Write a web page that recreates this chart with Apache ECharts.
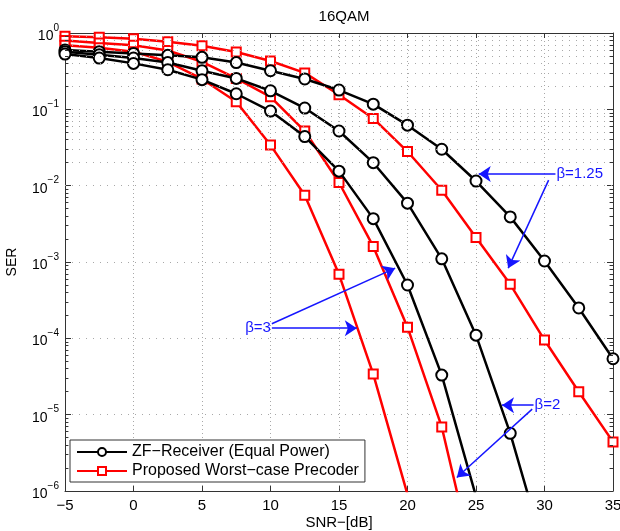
<!DOCTYPE html>
<html>
<head>
<meta charset="utf-8">
<script src="https://cdn.jsdelivr.net/npm/echarts@6/dist/echarts.min.js"></script>
<style>
    html, body { margin: 0; padding: 0; background: #fff; }
    #main { width: 620px; height: 531px; }
</style>
</head>
<body>
<div id="main"></div>
<script>
// SNR points (dB)
var snr = [-5, -2.5, 0, 2.5, 5, 7.5, 10, 12.5, 15, 17.5, 20, 22.5, 25, 27.5, 30, 32.5, 35];

// ZF-Receiver (Equal Power), beta = 1.25 / 2 / 3
var zf125 = [0.60, 0.57, 0.54, 0.51, 0.48, 0.41, 0.32, 0.25, 0.179, 0.117, 0.062, 0.030, 0.0115, 0.0039, 0.00103, 2.5e-4, 5.4e-5];
var zf2 = [0.57, 0.52, 0.47, 0.41, 0.32, 0.254, 0.175, 0.104, 0.052, 0.020, 0.0059, 0.0011, 1.1e-4, 5.7e-6, 1.6e-7];
var zf3 = [0.53, 0.47, 0.40, 0.33, 0.245, 0.16, 0.095, 0.044, 0.0155, 0.0037, 5.0e-4, 3.3e-5, 8.5e-7];

// Proposed Worst-case Precoder, beta = 1.25 / 2 / 3
var wc125 = [0.91, 0.88, 0.84, 0.77, 0.68, 0.565, 0.43, 0.30, 0.155, 0.076, 0.028, 0.0087, 0.0021, 5.1e-4, 9.5e-5, 2.0e-5, 4.4e-6];
var wc2 = [0.80, 0.74, 0.69, 0.59, 0.42, 0.254, 0.146, 0.052, 0.011, 0.0016, 1.4e-4, 6.9e-6, 8.5e-8];
var wc3 = [0.69, 0.64, 0.57, 0.42, 0.25, 0.126, 0.034, 0.0075, 6.9e-4, 3.4e-5, 9e-7];

// annotation arrows: [label, from, to] in data units
var notes = [
    ['β=1.25', [30.8, 0.0142], [25.2, 0.0142]],
    ['', [30.3, 0.0118], [27.35, 8.3e-4]],
    ['β=2', [29.2, 1.33e-5], [26.9, 1.33e-5]],
    ['', [29.1, 1.18e-5], [23.6, 1.5e-6]],
    ['β=3', [10.1, 1.36e-4], [16.3, 1.36e-4]],
    ['', [10.1, 1.55e-4], [19.1, 8.3e-4]]
];

var ZF = 'ZF\u2212Receiver (Equal Power)';
var WC = 'Proposed Worst\u2212case Precoder';
var font = 'Liberation Sans';

function pairs(vals) {
    var out = [];
    for (var i = 0; i < vals.length; i++) out.push([snr[i], vals[i]]);
    return out;
}

// minor grid + minor ticks at 2..9 x 10^d
var minorLines = [], minorTicks = [];
for (var d = -6; d < 0; d++) {
    for (var k = 2; k <= 9; k++) {
        var v = k * Math.pow(10, d);
        minorLines.push({ yAxis: v });
        minorTicks.push([{ coord: [-5, v] }, { coord: [-4.75, v] }]);
        minorTicks.push([{ coord: [34.75, v] }, { coord: [35, v] }]);
    }
}

var noteLines = [];
for (var i = 0; i < notes.length; i++) {
    var n = notes[i];
    noteLines.push([
        {
            coord: n[1],
            label: { show: !!n[0], formatter: n[0], position: 'start', distance: 1,
                color: '#1515ff', fontSize: 15, fontFamily: font }
        },
        { coord: n[2] }
    ]);
}

function redSeries(vals) {
    return {
        name: WC, type: 'line', data: pairs(vals),
        symbol: 'emptyRect', symbolSize: 9,
        lineStyle: { color: '#ff0000', width: 2.5 },
        itemStyle: { color: '#ff0000', borderWidth: 2 },
        z: 3
    };
}
function blackSeries(vals) {
    return {
        name: ZF, type: 'line', data: pairs(vals),
        symbol: 'emptyCircle', symbolSize: 11,
        lineStyle: { color: '#000', width: 2.5 },
        itemStyle: { color: '#000', borderWidth: 2 },
        z: 4
    };
}

var chart = echarts.init(document.getElementById('main'), null, { renderer: 'canvas' });

var dotColor = '#a8a8a8';

var option = {
    animation: false,
    textStyle: { fontFamily: font },
    title: {
        text: '16QAM', left: 339, top: 4, textAlign: 'center',
        textStyle: { fontSize: 15, fontWeight: 'normal', color: '#000', fontFamily: font }
    },
    grid: { left: 65, right: 7, top: 33, bottom: 40, containLabel: false, outerBoundsMode: 'none' },
    legend: {
        data: [ZF, WC], orient: 'vertical', left: 70, top: 440,
        itemWidth: 50, itemHeight: 10, itemGap: 3,
        padding: [4, 6, 3, 6],
        backgroundColor: '#fff', borderColor: '#333', borderWidth: 1,
        textStyle: { fontSize: 16, color: '#000', fontFamily: font }
    },
    xAxis: [{
        type: 'value', min: -5, max: 35, interval: 5,
        name: 'SNR\u2212[dB]', nameLocation: 'middle', nameGap: 24, nameMoveOverlap: false,
        nameTextStyle: { fontSize: 15, color: '#000', fontFamily: font },
        axisLine: { onZero: false, lineStyle: { color: '#333', width: 1 } },
        axisTick: { inside: true, length: 5, lineStyle: { color: '#333' } },
        axisLabel: {
            color: '#000', fontSize: 15, margin: 7, fontFamily: font,
            formatter: function (v) { return String(v).replace('-', '\u2212'); }
        },
        splitLine: { show: true, lineStyle: { color: dotColor, type: [1, 3], width: 1 } }
    }, {
        type: 'value', min: -5, max: 35, interval: 5, position: 'top',
        axisLine: { show: true, onZero: false, lineStyle: { color: '#333', width: 1 } },
        axisTick: { show: true, inside: true, length: 5, lineStyle: { color: '#333' } },
        axisLabel: { show: false }, splitLine: { show: false }
    }],
    yAxis: [{
        type: 'log', logBase: 10, min: 1e-6, max: 1,
        name: 'SER', nameLocation: 'middle', nameGap: 46, nameRotate: 90, nameMoveOverlap: false,
        nameTextStyle: { fontSize: 14, color: '#000', fontFamily: font },
        axisLine: { show: true, onZero: false, lineStyle: { color: '#333', width: 1 } },
        axisTick: { show: true, inside: true, length: 6, lineStyle: { color: '#333' } },
        axisLabel: {
            margin: 6, fontFamily: font,
            formatter: function (v) {
                var e = Math.round(Math.log10(v));
                return '{b|10}{s|' + (e < 0 ? '\u2212' + (-e) : e) + '}';
            },
            rich: {
                b: { fontSize: 14, color: '#000', fontFamily: font, lineHeight: 20, verticalAlign: 'bottom' },
                s: { fontSize: 10, color: '#000', fontFamily: font, lineHeight: 20, verticalAlign: 'top' }
            }
        },
        splitLine: { show: true, lineStyle: { color: dotColor, type: [1, 6], width: 1 } }
    }, {
        type: 'log', logBase: 10, min: 1e-6, max: 1, position: 'right',
        axisLine: { show: true, onZero: false, lineStyle: { color: '#333', width: 1 } },
        axisTick: { show: true, inside: true, length: 6, lineStyle: { color: '#333' } },
        axisLabel: { show: false }, splitLine: { show: false }
    }],
    series: [
        {
            name: 'grid', type: 'line', data: [], silent: true, z: 1,
            markLine: {
                silent: true, symbol: ['none', 'none'], animation: false,
                label: { show: false },
                lineStyle: { color: dotColor, type: [1, 6], width: 1 },
                emphasis: { disabled: true },
                data: minorLines
            }
        },
        {
            name: 'minorTicks', type: 'line', data: [], silent: true, z: 2,
            markLine: {
                silent: true, symbol: ['none', 'none'], animation: false,
                label: { show: false },
                lineStyle: { color: '#333', type: 'solid', width: 1 },
                emphasis: { disabled: true },
                data: minorTicks
            }
        },
        redSeries(wc125), redSeries(wc2), redSeries(wc3),
        blackSeries(zf125), blackSeries(zf2), blackSeries(zf3),
        {
            name: 'notes', type: 'line', data: [], silent: true, z: 6,
            markLine: {
                silent: true, symbol: ['none', 'arrow'], symbolSize: 12, animation: false,
                lineStyle: { color: '#1515ff', type: 'solid', width: 1.5 },
                itemStyle: { color: '#1515ff' },
                emphasis: { disabled: true },
                label: { show: false },
                data: noteLines
            }
        }
    ]
};

chart.setOption(option);
</script>
</body>
</html>
